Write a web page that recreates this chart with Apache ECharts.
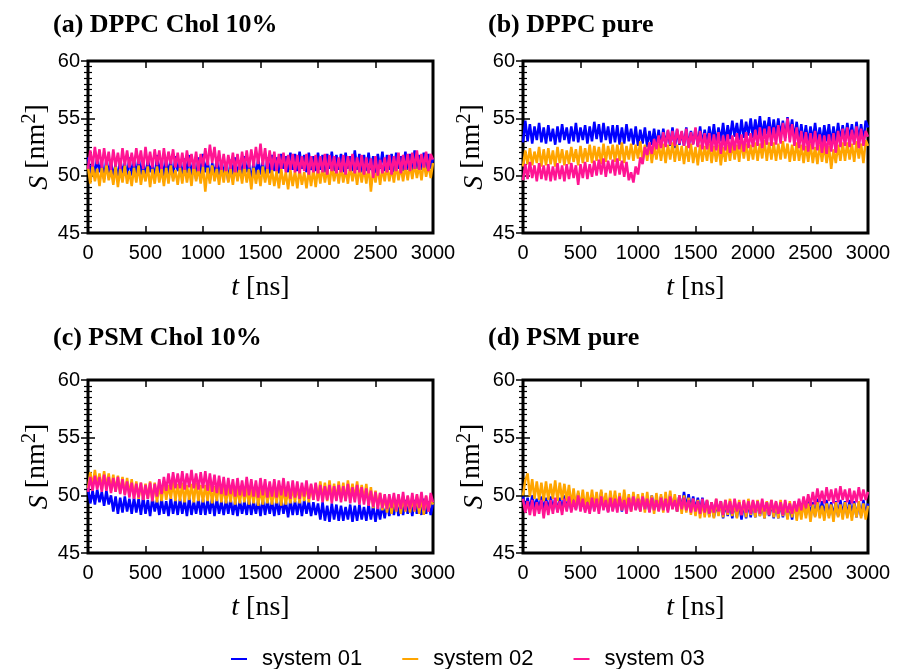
<!DOCTYPE html>
<html>
<head>
<meta charset="utf-8">
<script src="https://cdn.jsdelivr.net/npm/echarts@6/dist/echarts.min.js"></script>
<style>html,body{margin:0;padding:0;background:#fff}#c{width:900px;height:669px}</style>
</head>
<body>
<div id="c"></div>
<script>
const time = [
  0,20,40,60,80,100,120,140,160,180, 200,220,240,260,280,300,320,340,360,380,
  400,420,440,460,480,500,520,540,560,580, 600,620,640,660,680,700,720,740,760,780,
  800,820,840,860,880,900,920,940,960,980, 1000,1020,1040,1060,1080,1100,1120,1140,1160,1180,
  1200,1220,1240,1260,1280,1300,1320,1340,1360,1380, 1400,1420,1440,1460,1480,1500,1520,1540,1560,1580,
  1600,1620,1640,1660,1680,1700,1720,1740,1760,1780, 1800,1820,1840,1860,1880,1900,1920,1940,1960,1980,
  2000,2020,2040,2060,2080,2100,2120,2140,2160,2180, 2200,2220,2240,2260,2280,2300,2320,2340,2360,2380,
  2400,2420,2440,2460,2480,2500,2520,2540,2560,2580, 2600,2620,2640,2660,2680,2700,2720,2740,2760,2780,
  2800,2820,2840,2860,2880,2900,2920,2940,2960,2980, 3000];

const seriesNames = ['system 01','system 02','system 03'];
const titles = ['(a) DPPC Chol 10%','(b) DPPC pure','(c) PSM Chol 10%','(d) PSM pure'];
const xTicks = [0,500,1000,1500,2000,2500,3000];
const yTicks = [45,50,55,60];

// (a) DPPC Chol 10%
const a_sys01 = [
  51.6,50.0,51.4,49.8,51.7,50.3,51.2,49.7,51.5,50.1, 51.3,49.8,51.0,49.6,51.5,50.2,51.1,49.9,51.6,50.0,
  51.4,49.9,51.7,50.1,51.2,49.8,51.5,50.3,51.0,49.7, 51.8,50.2,51.4,49.9,51.6,50.1,51.3,49.8,51.7,50.4,
  51.2,49.9,51.5,50.2,51.8,50.0,51.3,49.7,51.6,50.1, 51.9,50.3,51.4,49.6,51.1,50.0,51.5,49.8,51.3,50.2,
  51.0,49.5,51.4,50.1,51.6,49.9,51.2,50.0,51.7,50.3, 51.1,49.4,51.3,49.8,51.5,50.1,51.2,49.7,51.6,50.2,
  51.8,50.4,51.6,50.2,51.9,50.6,51.7,50.3,52.0,50.5, 51.9,50.4,52.1,50.6,51.8,50.3,52.0,50.5,51.7,50.4,
  52.0,50.5,51.8,50.3,51.9,50.6,52.1,50.4,51.8,50.5, 51.9,50.3,52.0,50.6,51.7,50.4,52.2,50.5,51.9,50.3,
  51.8,50.4,52.0,50.5,51.7,50.2,51.9,50.6,52.1,50.4, 51.8,50.5,51.9,50.3,52.0,50.6,51.7,50.4,52.1,50.5,
  51.9,50.4,52.2,50.6,51.8,50.5,52.0,50.3,51.9,50.6, 51.5];
const a_sys02 = [
  50.8,49.3,50.9,49.5,50.6,49.1,50.7,49.4,51.0,49.6, 50.5,49.2,50.8,49.0,50.6,49.4,50.9,49.3,50.4,49.1,
  50.7,49.4,50.9,49.2,50.5,49.5,50.8,49.0,50.6,49.3, 50.8,49.4,50.6,49.1,50.7,49.3,50.9,49.5,50.5,49.2,
  50.7,49.3,50.9,49.4,50.6,49.1,51.0,49.5,50.7,49.3, 50.8,48.6,50.7,49.3,50.9,49.5,50.6,49.2,50.8,49.4,
  50.9,49.4,50.6,49.2,50.8,49.5,50.7,49.3,50.9,49.4, 50.6,48.8,50.7,49.3,50.5,49.1,50.8,49.4,50.6,49.2,
  50.5,49.1,50.4,48.9,50.6,49.2,50.3,48.8,50.5,49.1, 50.4,48.9,50.6,49.2,50.3,48.9,50.5,49.1,50.6,49.0,
  50.7,49.3,50.8,49.4,50.6,49.2,50.9,49.5,50.7,49.3, 50.8,49.4,50.6,49.3,50.9,49.5,50.7,49.2,50.8,49.4,
  50.7,49.3,50.9,48.6,50.6,49.4,50.8,49.2,50.7,49.5, 50.9,49.5,50.7,49.4,51.0,49.6,50.8,49.5,50.9,49.6,
  51.0,49.7,51.1,49.8,50.9,49.6,51.2,49.9,51.0,49.8, 51.1];
const a_sys03 = [
  50.6,52.2,50.8,52.5,51.0,52.3,50.7,52.4,50.9,52.1, 50.5,52.3,50.8,52.0,50.6,52.4,50.9,52.2,50.7,52.0,
  50.8,52.4,51.0,52.2,50.6,52.5,50.9,52.1,50.7,52.3, 50.9,52.2,50.6,52.4,50.8,52.1,51.0,52.3,50.7,52.0,
  50.7,52.0,50.5,52.2,50.8,51.9,50.6,52.1,50.4,51.9, 50.8,52.4,50.9,52.7,51.1,52.5,50.7,52.2,50.5,51.9,
  50.4,51.8,50.6,52.0,50.3,51.9,50.5,52.1,50.6,52.2, 50.7,52.3,50.8,52.5,51.0,52.8,50.9,52.4,50.6,52.2,
  50.5,52.1,50.4,51.9,50.6,52.0,50.3,51.8,50.5,51.9, 50.3,51.8,50.2,51.7,50.4,51.9,50.1,51.7,50.3,51.8,
  50.2,51.7,50.3,51.9,50.1,51.8,50.4,51.7,50.2,51.6, 50.3,51.8,50.1,51.7,50.4,51.9,50.2,51.6,50.3,51.8,
  50.1,51.6,50.2,51.5,49.8,51.7,50.0,51.4,50.2,51.6, 50.3,51.8,50.1,51.7,50.4,52.0,50.2,51.8,50.5,51.9,
  50.4,52.0,50.6,52.2,50.5,51.9,50.7,52.1,50.4,51.9, 51.4];

// (b) DPPC pure
const b_sys01 = [
  52.9,54.8,53.0,54.5,52.8,54.3,53.1,54.6,52.9,54.2, 52.8,54.4,53.0,54.1,52.7,54.3,52.9,54.5,53.1,54.2,
  52.8,54.3,53.0,54.6,52.9,54.2,53.1,54.4,52.8,54.3, 53.0,54.7,53.2,54.5,52.9,54.6,53.1,54.3,52.8,54.4,
  52.9,54.4,52.7,54.2,52.8,54.5,53.0,54.1,52.7,54.3, 52.6,54.0,52.8,54.2,52.5,53.9,52.7,54.1,52.6,54.0,
  52.5,54.1,52.7,53.9,52.6,54.2,52.4,54.0,52.7,53.8, 52.6,54.2,52.5,53.9,52.8,54.1,52.6,54.3,52.7,54.0,
  52.8,54.3,52.9,54.5,52.7,54.2,53.0,54.6,52.9,54.4, 53.2,54.8,53.4,54.6,53.1,54.9,53.3,54.7,53.5,55.0,
  53.3,54.9,53.5,55.2,53.4,54.8,53.6,55.1,53.3,54.9, 53.4,55.0,53.5,54.8,53.3,55.1,53.6,54.9,53.2,54.7,
  53.0,54.5,52.9,54.4,52.8,54.3,53.0,54.6,52.9,54.2, 52.8,54.4,53.0,54.5,52.7,54.3,52.9,54.6,53.0,54.4,
  53.0,54.6,53.2,54.5,52.9,54.7,53.1,54.5,53.0,54.8, 54.2];
const b_sys02 = [
  50.8,52.2,51.0,52.4,50.9,52.1,51.1,52.5,50.8,52.3, 50.9,52.4,51.0,52.2,50.8,52.5,51.1,52.3,50.9,52.2,
  51.0,52.5,51.2,52.3,50.9,52.6,51.1,52.4,51.2,52.7, 51.1,52.6,51.3,52.5,51.0,52.8,51.2,52.6,51.4,52.7,
  51.2,52.7,51.3,52.9,51.1,52.6,51.4,52.8,51.3,52.7, 51.5,53.0,51.2,52.7,51.3,52.9,51.1,52.6,51.4,52.8,
  51.3,52.8,51.1,52.7,51.4,52.9,51.2,52.7,51.3,52.6, 51.0,52.6,51.2,52.8,51.1,52.5,50.9,52.7,51.2,52.6,
  51.3,52.8,51.1,52.6,51.2,52.7,50.9,52.5,51.2,52.7, 51.3,52.9,51.4,52.7,51.2,53.0,51.5,52.8,51.3,52.7,
  51.4,52.9,51.3,52.8,51.5,53.1,51.3,52.9,51.4,52.9, 51.3,52.8,51.4,53.0,51.5,52.8,51.2,52.7,51.3,52.9,
  51.3,52.7,51.1,52.6,51.2,52.8,51.1,52.5,51.0,52.7, 51.2,52.7,51.1,52.6,50.6,52.3,51.1,52.7,51.3,52.9,
  51.3,52.9,51.4,52.8,51.2,53.0,51.5,52.8,51.1,53.1, 52.6];
const b_sys03 = [
  49.6,51.0,49.7,51.2,49.8,50.9,49.5,51.1,49.7,50.9, 49.6,51.0,49.5,50.8,49.6,51.1,49.7,50.9,49.5,51.0,
  49.7,51.1,49.8,50.9,49.2,51.0,49.8,51.2,49.7,51.0, 49.9,51.3,50.0,51.4,50.1,51.5,49.9,51.3,50.2,51.4,
  50.0,51.5,50.1,51.3,49.9,51.2,49.6,50.3,49.4,50.8, 50.1,51.6,51.0,52.5,51.8,52.9,51.9,53.2,52.3,53.5,
  52.4,53.8,52.5,54.0,52.7,53.9,52.6,54.1,52.8,53.9, 52.6,54.1,52.4,53.8,52.7,54.2,52.5,53.9,52.3,53.7,
  52.3,53.7,52.1,53.6,52.2,53.8,51.9,53.5,52.2,53.6, 52.0,53.5,52.2,53.7,52.3,53.6,52.1,53.8,52.4,53.7,
  52.5,54.0,52.6,54.2,52.4,54.1,52.7,54.3,52.6,54.2, 52.7,54.4,52.8,54.6,53.0,55.0,52.9,54.5,52.6,54.2,
  52.4,53.9,52.2,53.8,52.1,53.7,52.3,53.9,52.2,53.6, 52.0,53.5,51.9,53.6,52.1,53.7,52.0,53.9,52.5,54.1,
  52.6,54.2,52.5,54.0,52.7,54.3,52.4,54.1,52.6,53.9, 53.4];

// (c) PSM Chol 10%
const c_sys01 = [
  50.6,49.3,50.4,49.2,50.5,49.4,50.3,49.1,50.4,49.2, 50.0,48.6,49.9,48.4,49.8,48.5,49.9,48.6,49.7,48.4,
  49.8,48.5,49.7,48.3,49.9,48.4,49.6,48.2,49.8,48.6, 49.6,48.3,49.7,48.4,49.5,48.2,49.8,48.4,49.6,48.3,
  49.7,48.4,49.6,48.2,49.8,48.3,49.5,48.4,49.7,48.3, 49.7,48.3,49.6,48.4,49.8,48.2,49.7,48.4,49.5,48.3,
  49.6,48.4,49.7,48.3,49.5,48.2,49.6,48.4,49.5,48.3, 49.7,48.3,49.5,48.4,49.6,48.2,49.7,48.3,49.6,48.4,
  49.5,48.2,49.6,48.3,49.7,48.4,49.5,48.1,49.6,48.3, 49.5,48.3,49.7,48.2,49.6,48.4,49.5,48.2,49.4,48.3,
  49.3,47.9,49.4,47.8,49.1,47.7,49.3,47.9,49.2,47.8, 49.1,47.8,49.0,47.9,49.2,47.7,49.1,47.8,49.2,47.9,
  49.0,47.8,49.2,47.9,49.1,47.7,49.0,47.9,49.2,48.0, 49.4,48.2,49.5,48.3,49.6,48.2,49.4,48.3,49.6,48.4,
  49.5,48.2,49.6,48.4,49.5,48.3,49.7,48.4,49.5,48.3, 49.3];
const c_sys02 = [
  50.6,52.0,50.7,52.2,50.8,51.9,50.5,52.1,50.7,51.9, 50.4,51.8,50.3,51.7,50.2,51.6,50.1,51.5,50.0,51.4,
  49.8,51.2,49.7,51.1,49.6,51.0,49.7,51.2,49.5,51.1, 49.4,51.0,49.5,51.1,49.6,50.9,49.7,51.2,49.5,51.0,
  49.5,51.1,49.4,50.9,49.6,51.0,49.4,51.1,49.5,50.9, 49.4,50.9,49.5,51.0,49.3,50.8,49.5,51.0,49.4,50.8,
  49.3,50.8,49.4,50.9,49.2,50.7,49.3,50.8,49.4,50.7, 49.2,50.7,49.3,50.8,49.1,50.6,49.2,50.7,49.3,50.6,
  49.2,50.6,49.3,50.8,49.1,50.7,49.2,50.5,49.3,50.8, 49.4,50.9,49.3,50.8,49.5,51.0,49.4,50.9,49.6,51.0,
  49.6,51.2,49.7,51.1,49.5,51.3,49.7,51.0,49.6,51.2, 49.7,51.1,49.5,51.3,49.8,51.0,49.6,51.2,49.7,50.9,
  49.5,51.0,49.2,50.7,48.9,50.4,49.0,50.2,48.7,50.0, 48.5,49.9,48.4,49.8,48.6,50.0,48.4,49.9,48.6,49.9,
  48.5,49.8,48.6,50.0,48.4,49.9,48.3,49.9,48.6,49.8, 49.2];
const c_sys03 = [
  50.3,51.6,50.4,51.7,50.5,51.6,50.3,51.8,50.4,51.6, 50.2,51.5,50.3,51.6,50.1,51.4,50.0,51.2,49.8,51.1,
  49.7,51.0,49.8,51.1,49.6,50.9,49.7,51.1,49.5,51.0, 49.9,51.4,50.1,51.6,50.4,51.9,50.5,52.0,50.6,51.9,
  50.6,52.1,50.5,51.9,50.7,52.2,50.6,51.9,50.5,52.0, 50.6,52.1,50.4,51.9,50.3,51.8,50.2,51.7,50.1,51.6,
  50.0,51.5,50.1,51.4,49.9,51.5,50.0,51.3,49.9,51.6, 50.0,51.4,49.9,51.3,49.8,51.5,50.0,51.4,49.8,51.2,
  49.9,51.4,49.8,51.3,50.0,51.5,49.9,51.2,49.7,51.3, 49.8,51.2,49.7,51.1,49.9,51.3,49.7,51.0,49.6,51.1,
  49.5,50.9,49.4,50.8,49.6,50.9,49.3,50.8,49.5,50.9, 49.4,50.8,49.5,51.0,49.3,50.7,49.4,50.9,49.2,50.7,
  49.2,50.6,49.1,50.4,49.0,50.3,48.8,50.2,48.9,50.1, 48.8,50.1,48.9,50.2,48.7,50.1,48.8,50.3,48.7,50.0,
  48.8,50.2,48.7,50.1,48.9,50.3,48.7,50.0,48.6,50.2, 49.4];

// (d) PSM pure
const d_sys01 = [
  49.9,48.8,49.8,48.7,50.0,48.9,49.7,48.8,49.9,48.7, 49.8,48.7,49.9,48.8,49.7,48.6,49.8,48.7,50.0,48.8,
  49.8,48.7,50.1,48.8,50.2,48.9,49.8,48.7,49.9,48.6, 49.9,48.8,49.8,48.7,50.3,48.9,49.8,48.6,49.9,48.7,
  50.0,48.8,49.8,48.6,49.9,48.7,49.8,48.8,50.0,48.8, 49.8,48.7,49.9,48.8,49.7,48.6,50.0,48.8,49.8,48.7,
  49.9,48.8,49.8,48.7,50.1,48.9,49.8,48.6,50.0,48.8, 50.3,48.9,50.1,48.8,49.9,48.7,49.8,48.6,49.8,48.6,
  49.5,48.2,49.4,48.1,49.3,48.3,49.5,48.0,49.3,48.2, 49.3,48.0,49.4,48.1,49.3,47.9,49.3,48.0,49.4,48.1,
  49.4,48.1,49.5,48.2,49.3,48.0,49.4,48.2,49.4,48.0, 49.3,48.0,49.4,48.1,49.3,48.0,49.2,47.9,49.4,48.1,
  49.5,48.2,49.6,48.3,49.5,48.3,49.4,48.2,49.7,48.3, 49.5,48.3,49.6,48.2,49.4,48.1,49.5,48.2,49.6,48.3,
  49.5,48.2,49.6,48.3,49.5,48.1,49.4,48.2,49.6,48.3, 49.3];
const d_sys02 = [
  50.0,51.3,51.9,49.9,51.4,49.7,51.2,49.6,51.1,49.5, 51.2,49.6,51.0,49.7,51.3,49.5,51.1,49.6,51.0,49.5,
  50.9,49.1,50.6,49.0,50.4,48.9,50.5,48.8,50.3,49.0, 50.5,48.9,50.3,48.8,50.5,49.0,50.2,48.7,50.4,48.9,
  50.4,48.8,50.2,48.7,50.5,48.9,50.1,48.6,50.3,48.8, 50.1,48.6,50.2,48.5,50.3,48.7,50.0,48.4,50.2,48.7,
  50.1,48.5,50.3,48.7,50.4,48.8,50.1,48.6,50.0,48.4, 50.0,48.5,49.8,48.3,49.7,48.2,49.6,48.0,49.5,48.1,
  49.6,48.1,49.4,48.0,49.7,48.2,49.5,48.1,49.6,48.3, 49.7,48.2,49.4,48.0,49.6,48.3,49.5,48.1,49.7,48.3,
  49.5,48.1,49.6,48.2,49.4,48.0,49.5,48.3,49.6,48.1, 49.4,48.0,49.6,48.2,49.3,47.9,49.5,48.1,49.3,47.8,
  49.2,47.9,49.4,48.0,49.3,47.7,49.2,48.1,49.4,48.0, 49.1,47.8,49.3,48.0,49.2,47.7,49.4,48.1,49.2,47.9,
  49.4,48.0,49.2,47.8,49.3,48.1,49.5,48.0,49.3,47.9, 49.1];
const d_sys03 = [
  49.7,48.5,49.5,48.3,49.6,48.2,49.4,48.4,49.6,48.0, 49.5,48.3,49.6,48.4,49.8,48.5,49.5,48.3,49.7,48.6,
  49.9,48.5,49.6,48.7,50.0,48.6,49.7,48.5,49.4,48.4, 49.8,48.6,49.7,48.4,49.9,48.7,49.6,48.5,49.8,48.6,
  49.7,48.5,49.9,48.7,49.6,48.4,49.8,48.6,49.9,48.7, 49.7,48.6,49.9,48.8,49.7,48.5,49.8,48.7,49.6,48.6,
  49.8,48.7,49.7,48.5,49.9,48.8,49.6,48.6,50.0,48.8, 49.8,48.7,49.6,48.5,49.7,48.6,49.5,48.4,49.7,48.5,
  49.6,48.4,49.4,48.5,49.7,48.6,49.5,48.3,49.6,48.5, 49.5,48.4,49.7,48.6,49.4,48.3,49.6,48.5,49.5,48.4,
  49.6,48.5,49.5,48.4,49.7,48.6,49.4,48.3,49.6,48.5, 49.5,48.4,49.4,48.3,49.6,48.5,49.3,48.4,49.5,48.6,
  49.7,48.7,49.9,48.9,50.1,49.1,50.3,49.2,50.6,49.4, 50.4,49.3,50.7,49.5,50.5,49.3,50.6,49.4,50.8,49.6,
  50.5,49.4,50.6,49.3,50.4,49.4,50.7,49.5,50.5,49.6, 50.3];

const panelData = [
  [a_sys01, a_sys02, a_sys03],
  [b_sys01, b_sys02, b_sys03],
  [c_sys01, c_sys02, c_sys03],
  [d_sys01, d_sys02, d_sys03]
];

// layout & style
const colors = ['#0000ff', '#ffa500', '#ff1493'];
const gridPos = [
  {left: 88, top: 61, width: 345, height: 172},
  {left: 523, top: 61, width: 345, height: 172},
  {left: 88, top: 380, width: 345, height: 173},
  {left: 523, top: 380, width: 345, height: 173}
];
const titlePos = [
  {left: 48, top: 7}, {left: 483, top: 7}, {left: 48, top: 320}, {left: 483, top: 320}
];

const sans = 'Liberation Sans, Arial, Helvetica, sans-serif';
const serif = 'Liberation Serif, Times New Roman, serif';

const grids = [], xAxes = [], yAxes = [], series = [], titleOpts = [];
gridPos.forEach((g, i) => {
  grids.push(Object.assign({show: true, borderColor: '#000', borderWidth: 3, backgroundColor: 'transparent'}, g));
  titleOpts.push(Object.assign({
    text: titles[i],
    textStyle: {fontFamily: serif, fontWeight: 'bold', fontSize: 26, color: '#000'}
  }, titlePos[i]));
  const xCommon = {
    type: 'value', gridIndex: i, min: xTicks[0], max: xTicks[xTicks.length - 1], interval: 500,
    splitLine: {show: false}, axisLine: {show: false},
    axisTick: {show: true, inside: true, length: 7, lineStyle: {color: '#000', width: 1.5}}
  };
  xAxes.push(Object.assign({}, xCommon, {
    position: 'bottom',
    axisLabel: {show: true, fontFamily: sans, fontSize: 20, color: '#000', margin: 10,
      formatter: v => String(v)},
    name: '{i|t} [ns]', nameLocation: 'middle', nameGap: 41,
    nameTextStyle: {fontFamily: serif, fontSize: 28, color: '#000',
      rich: {i: {fontFamily: serif, fontStyle: 'italic', fontSize: 28, color: '#000'}}}
  }));
  xAxes.push(Object.assign({}, xCommon, {position: 'top', axisLabel: {show: false}}));
  const yCommon = {
    type: 'value', gridIndex: i, min: yTicks[0], max: yTicks[yTicks.length - 1], interval: 5,
    splitLine: {show: false}, axisLine: {show: false},
    axisTick: {show: true, inside: true, length: 7, lineStyle: {color: '#000', width: 1.5}},
    minorTick: {show: true, splitNumber: 10, length: 4, lineStyle: {color: '#000', width: 1.2}},
    minorSplitLine: {show: false}
  };
  yAxes.push(Object.assign({}, yCommon, {
    position: 'left',
    axisLabel: {show: true, fontFamily: sans, fontSize: 20, color: '#000', margin: 8},
    name: '{i|S} [nm{s|2}]', nameLocation: 'middle', nameGap: 32,
    nameTextStyle: {fontFamily: serif, fontSize: 28, color: '#000',
      rich: {
        i: {fontFamily: serif, fontStyle: 'italic', fontSize: 28, color: '#000', verticalAlign: 'bottom', lineHeight: 34},
        s: {fontFamily: serif, fontSize: 20, color: '#000', verticalAlign: 'top', lineHeight: 34}
      }}
  }));
  yAxes.push(Object.assign({}, yCommon, {position: 'right', axisLabel: {show: false}}));
  panelData[i].forEach((arr, k) => {
    series.push({
      name: seriesNames[k], type: 'line', xAxisIndex: 2 * i, yAxisIndex: 2 * i,
      data: time.map((t, j) => [t, arr[j]]),
      symbol: 'none', showSymbol: false,
      lineStyle: {color: colors[k], width: 2.5},
      itemStyle: {color: colors[k]},
      z: 2 + k
    });
  });
});

const chart = echarts.init(document.getElementById('c'), null, {renderer: 'canvas'});
chart.setOption({
  animation: false,
  backgroundColor: '#fff',
  title: titleOpts,
  grid: grids,
  xAxis: xAxes,
  yAxis: yAxes,
  legend: {
    data: seriesNames, top: 643, left: 226, itemGap: 40, itemWidth: 16, itemHeight: 2, icon: 'rect',
    textStyle: {fontFamily: sans, fontSize: 22, color: '#000', padding: [0, 0, 0, 10]}
  },
  series: series
});
</script>
</body>
</html>
